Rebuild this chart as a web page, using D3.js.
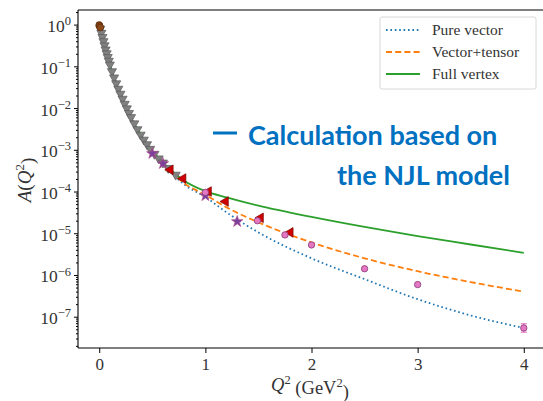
<!DOCTYPE html>
<html>
<head>
<meta charset="utf-8">
<script src="https://cdn.jsdelivr.net/npm/d3@7"></script>
<style>
  body { margin: 0; background: #fff; }
  svg { display: block; }
</style>
</head>
<body>
<script>
// curves: Q^2 grid and log10 A(Q^2)
var curveQ2 = [0, 0.02, 0.04, 0.06, 0.08, 0.1, 0.15, 0.2, 0.3, 0.4, 0.5, 0.6, 0.8, 1.0, 1.2, 1.5, 2.0, 2.5, 3.0, 3.5, 4.0];
var pureVector   = [0, -0.2, -0.4, -0.6, -0.78, -0.96, -1.33, -1.66, -2.24, -2.68, -3.05, -3.34, -3.83, -4.13, -4.5, -4.98, -5.6, -6.1, -6.58, -6.97, -7.27];
var vectorTensor = [0, -0.2, -0.4, -0.6, -0.78, -0.96, -1.33, -1.66, -2.24, -2.68, -3.04, -3.32, -3.8, -4.08, -4.38, -4.74, -5.22, -5.6, -5.91, -6.17, -6.4];
var fullVertex   = [0, -0.2, -0.4, -0.6, -0.78, -0.96, -1.33, -1.66, -2.23, -2.67, -3.03, -3.3, -3.74, -3.99, -4.14, -4.34, -4.61, -4.85, -5.07, -5.27, -5.47];
var seriesNames = ["Pure vector", "Vector+tensor", "Full vertex"];

// data points (Q^2, log10 A)
var greyQ2 = [0.01, 0.02, 0.03, 0.04, 0.05, 0.06, 0.07, 0.08, 0.09, 0.10, 0.12, 0.14, 0.16, 0.18, 0.20, 0.22, 0.24, 0.26, 0.28, 0.30, 0.33, 0.36, 0.39, 0.42, 0.45, 0.48, 0.52, 0.56, 0.60, 0.65, 0.72];
var greyA  = [-0.1, -0.2, -0.3, -0.4, -0.5, -0.6, -0.69, -0.78, -0.87, -0.96, -1.12, -1.27, -1.41, -1.54, -1.66, -1.78, -1.9, -2.01, -2.12, -2.22, -2.37, -2.51, -2.64, -2.76, -2.87, -2.98, -3.1, -3.21, -3.31, -3.44, -3.6];
var brownQ2 = [0.0, 0.005, 0.01];
var brownA  = [-0.01, -0.04, -0.07];
var purpleQ2 = [0.5, 0.6, 1.0, 1.3];
var purpleA  = [-3.09, -3.33, -4.1, -4.72];
var redQ2 = [0.67, 0.79, 1.03, 1.19, 1.52, 1.8];
var redA  = [-3.48, -3.69, -4.0, -4.24, -4.63, -4.98];
var pinkQ2 = [1.0, 1.49, 1.75, 2.0, 2.5, 3.0, 4.0];
var pinkA  = [-4.02, -4.7, -5.04, -5.28, -5.85, -6.23, -7.27];
var pinkErr = [0, 0, 0, 0, 0, 0, 0.1];

var xTicks = [0, 1, 2, 3, 4];
var yDecades = [0, -1, -2, -3, -4, -5, -6, -7];

var W = 543, H = 401;
var svg = d3.select("body").append("svg").attr("width", W).attr("height", H);

var x = d3.scaleLinear().domain([-0.2, 4.2]).range([78, 545]);
var y = d3.scaleLog().domain([Math.pow(10, -7.75), Math.pow(10, 0.35)]).range([348, 10]);
function p(v) { return Math.pow(10, v); }

svg.append("clipPath").attr("id", "clip")
    .append("rect").attr("x", 78).attr("y", 10).attr("width", 470).attr("height", 338);

var plot = svg.append("g").attr("clip-path", "url(#clip)");

var line = d3.line()
    .x(function (d) { return x(d[0]); })
    .y(function (d) { return y(p(d[1])); })
    .curve(d3.curveMonotoneX);

var styles = [
    {color: "#1f77b4", dash: "1.6,2.8", data: pureVector},
    {color: "#ff7f0e", dash: "6,3.2", data: vectorTensor},
    {color: "#2ca02c", dash: null, data: fullVertex}
];

styles.forEach(function (s) {
    plot.append("path")
        .datum(curveQ2.map(function (q, i) { return [q, s.data[i]]; }))
        .attr("fill", "none")
        .attr("stroke", s.color)
        .attr("stroke-width", 1.8)
        .attr("stroke-dasharray", s.dash)
        .attr("d", line);
});

// markers
function pts(qs, as) { return qs.map(function (q, i) { return [q, as[i]]; }); }

plot.selectAll(".grey").data(pts(greyQ2, greyA)).enter().append("path")
    .attr("class", "grey")
    .attr("d", d3.symbol().type(d3.symbolTriangle).size(36))
    .attr("transform", function (d) { return "translate(" + x(d[0]) + "," + y(p(d[1])) + ") rotate(180)"; })
    .attr("fill", "#808080").attr("stroke", "#5a5a5a").attr("stroke-width", 0.7);

plot.selectAll(".brown").data(pts(brownQ2, brownA)).enter().append("circle")
    .attr("cx", function (d) { return x(d[0]); })
    .attr("cy", function (d) { return y(p(d[1])); })
    .attr("r", 3.4)
    .attr("fill", "#8c4a1a").attr("stroke", "#5a2a0a").attr("stroke-width", 0.7);

plot.selectAll(".purple").data(pts(purpleQ2, purpleA)).enter().append("path")
    .attr("d", d3.symbol().type(d3.symbolStar).size(40))
    .attr("transform", function (d) { return "translate(" + x(d[0]) + "," + y(p(d[1])) + ")"; })
    .attr("fill", "#7b3f9e").attr("stroke", "#b04a8a").attr("stroke-width", 0.7);

plot.selectAll(".red").data(pts(redQ2, redA)).enter().append("path")
    .attr("d", d3.symbol().type(d3.symbolTriangle).size(40))
    .attr("transform", function (d) { return "translate(" + x(d[0]) + "," + y(p(d[1])) + ") rotate(-90)"; })
    .attr("fill", "#d00000").attr("stroke", "#7a0000").attr("stroke-width", 0.7);

var pinkPts = pinkQ2.map(function (q, i) { return [q, pinkA[i], pinkErr[i]]; });
var pinkG = plot.selectAll(".pink").data(pinkPts).enter().append("g");
pinkG.filter(function (d) { return d[2] > 0; }).each(function (d) {
    var g = d3.select(this), cx = x(d[0]);
    var y1 = y(p(d[1] + d[2])), y2 = y(p(d[1] - d[2]));
    g.append("line").attr("x1", cx).attr("x2", cx).attr("y1", y1).attr("y2", y2).attr("stroke", "#e377c2").attr("stroke-width", 1.2);
    g.append("line").attr("x1", cx - 3).attr("x2", cx + 3).attr("y1", y1).attr("y2", y1).attr("stroke", "#e377c2").attr("stroke-width", 1.2);
    g.append("line").attr("x1", cx - 3).attr("x2", cx + 3).attr("y1", y2).attr("y2", y2).attr("stroke", "#e377c2").attr("stroke-width", 1.2);
});
pinkG.append("circle")
    .attr("cx", function (d) { return x(d[0]); })
    .attr("cy", function (d) { return y(p(d[1])); })
    .attr("r", 3.2)
    .attr("fill", "#e377c2").attr("stroke", "#8a3a7a").attr("stroke-width", 0.8);

// axes
var serif = "Liberation Serif, DejaVu Serif, serif";
var xAxis = svg.append("g")
    .attr("transform", "translate(0,348)")
    .call(d3.axisBottom(x).tickValues(xTicks).tickSize(5).tickSizeOuter(0).tickFormat(d3.format("d")));
xAxis.select(".domain").remove();
xAxis.selectAll(".tick text").attr("font-family", serif).attr("font-size", 17).attr("fill", "#333").attr("dy", "0.85em");

var yAxis = svg.append("g")
    .attr("transform", "translate(78,0)")
    .call(d3.axisLeft(y).tickValues(yDecades.map(p)).tickSize(4).tickFormat(""));
yAxis.select(".domain").remove();
yAxis.selectAll(".tick").each(function (d, i) {
    var t = d3.select(this).append("text")
        .attr("x", -7).attr("dy", "0.4em")
        .attr("text-anchor", "end")
        .attr("font-family", serif)
        .attr("font-size", 17.5).attr("fill", "#333");
    t.append("tspan").text("10");
    t.append("tspan").attr("dy", "-0.55em").attr("font-size", 12.5).text(yDecades[i] === 0 ? "0" : "\u2212" + (-yDecades[i]));
});

var minor = [];
d3.range(-8, 1).forEach(function (e) {
    d3.range(2, 10).forEach(function (m) {
        var v = m * Math.pow(10, e);
        if (v > y.domain()[0] && v < y.domain()[1]) minor.push(v);
    });
});
var yMinor = svg.append("g")
    .attr("transform", "translate(78,0)")
    .call(d3.axisLeft(y).tickValues(minor).tickSize(2).tickFormat(""));
yMinor.select(".domain").remove();

// frame
svg.append("line").attr("x1", 78).attr("x2", 543).attr("y1", 348).attr("y2", 348).attr("stroke", "#000").attr("stroke-width", 1.1);
svg.append("line").attr("x1", 78).attr("x2", 543).attr("y1", 10).attr("y2", 10).attr("stroke", "#000").attr("stroke-width", 1.1);
svg.append("line").attr("x1", 78).attr("x2", 78).attr("y1", 10).attr("y2", 348).attr("stroke", "#000").attr("stroke-width", 1.1);

// axis labels
var xl = svg.append("text")
    .attr("x", 310).attr("y", 391)
    .attr("text-anchor", "middle")
    .attr("font-family", serif)
    .attr("font-size", 18.5).attr("fill", "#333");
xl.append("tspan").attr("font-style", "italic").text("Q");
xl.append("tspan").attr("dy", "-0.55em").attr("font-size", 12.5).text("2");
xl.append("tspan").attr("dy", "0.55em").text(" (GeV");
xl.append("tspan").attr("dy", "-0.55em").attr("font-size", 12.5).text("2");
xl.append("tspan").attr("dy", "0.55em").text(")");

var yl = svg.append("text")
    .attr("transform", "translate(31,180) rotate(-90)")
    .attr("text-anchor", "middle")
    .attr("font-family", serif)
    .attr("font-size", 19).attr("fill", "#333");
yl.append("tspan").attr("font-style", "italic").text("A");
yl.append("tspan").text("(");
yl.append("tspan").attr("font-style", "italic").text("Q");
yl.append("tspan").attr("dy", "-0.55em").attr("font-size", 13).text("2");
yl.append("tspan").attr("dy", "0.55em").text(")");

// legend
var lg = svg.append("g").attr("transform", "translate(380,17)");
lg.append("rect").attr("width", 156).attr("height", 72).attr("rx", 2)
    .attr("fill", "#fff").attr("stroke", "#d8d8d8").attr("stroke-width", 1);
seriesNames.forEach(function (name, i) {
    var yy = 13 + i * 22;
    lg.append("line").attr("x1", 6).attr("x2", 40).attr("y1", yy).attr("y2", yy)
        .attr("stroke", styles[i].color).attr("stroke-width", 1.8)
        .attr("stroke-dasharray", styles[i].dash);
    lg.append("text").attr("x", 52).attr("y", yy).attr("dy", "0.35em")
        .attr("font-family", serif).attr("font-size", 15.5)
        .attr("fill", "#333").text(name);
});

// annotation
svg.append("line").attr("x1", 213).attr("x2", 237).attr("y1", 133).attr("y2", 133)
    .attr("stroke", "#0070c0").attr("stroke-width", 3);
svg.append("text").attr("x", 248).attr("y", 145)
    .attr("font-family", "Lato, sans-serif").attr("font-weight", "bold")
    .attr("font-size", 27).attr("fill", "#0070c0").text("Calculation based on");
svg.append("text").attr("x", 510).attr("y", 185).attr("text-anchor", "end")
    .attr("font-family", "Lato, sans-serif").attr("font-weight", "bold")
    .attr("font-size", 27).attr("fill", "#0070c0").text("the NJL model");
</script>
</body>
</html>
